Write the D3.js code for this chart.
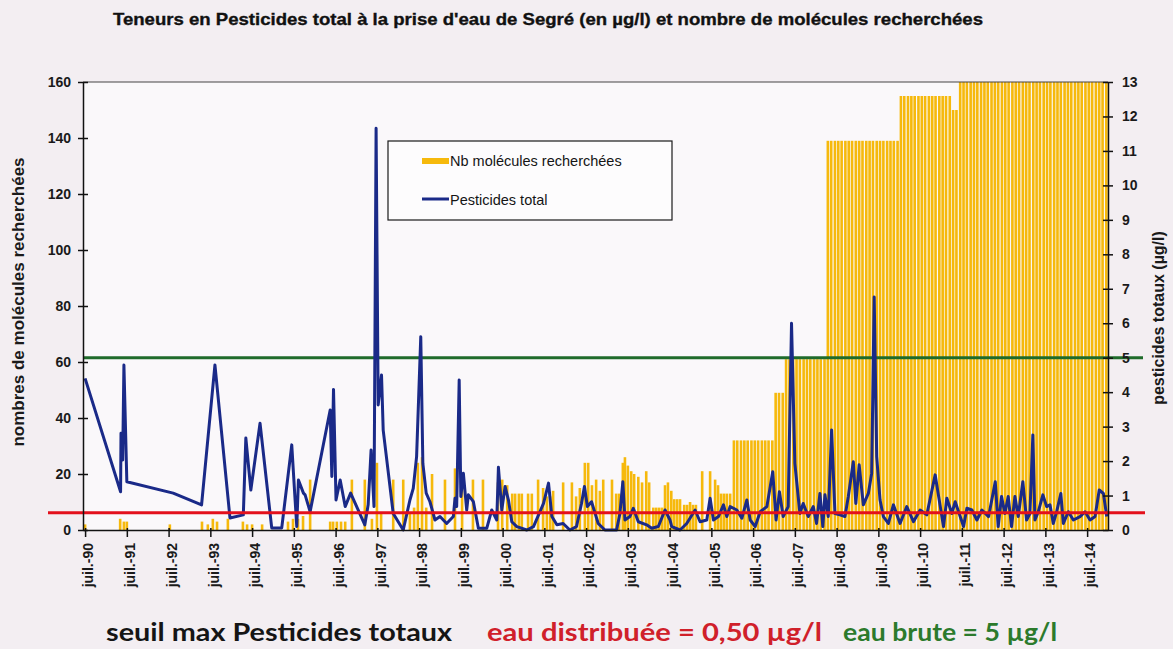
<!DOCTYPE html>
<html>
<head>
<meta charset="utf-8">
<script src="https://cdn.jsdelivr.net/npm/d3@7"></script>
<style>
  body { margin: 0; background: #f3eef2; }
  svg { display: block; }
</style>
</head>
<body>
<script>
// --- data ----------------------------------------------------------------

// Pesticides total (µg/l), sample dates as decimal years
const lineYears = [
  1990.50, 1991.35, 1991.36, 1991.40, 1991.43, 1991.50, 1992.61, 1993.29, 1993.61, 1993.97,
  1994.29, 1994.35, 1994.47, 1994.69, 1994.97, 1995.21, 1995.45, 1995.53, 1995.57, 1995.61,
  1995.73, 1995.77, 1995.89, 1996.37, 1996.41, 1996.45, 1996.51, 1996.61, 1996.73, 1996.86,
  1997.20, 1997.28, 1997.35, 1997.42, 1997.47, 1997.52, 1997.60, 1997.64, 1997.88, 1998.12,
  1998.28, 1998.36, 1998.44, 1998.54, 1998.59, 1998.67, 1998.76, 1998.88, 1999.00, 1999.16,
  1999.32, 1999.36, 1999.40, 1999.46, 1999.50, 1999.56, 1999.64, 1999.68, 1999.80, 1999.92,
  2000.12, 2000.24, 2000.36, 2000.40, 2000.48, 2000.56, 2000.64, 2000.72, 2000.84, 2001.08,
  2001.24, 2001.48, 2001.60, 2001.68, 2001.80, 2001.95, 2002.11, 2002.27, 2002.39, 2002.46,
  2002.53, 2002.63, 2002.79, 2002.95, 2003.23, 2003.31, 2003.38, 2003.43, 2003.55, 2003.63,
  2003.75, 2003.95, 2004.07, 2004.23, 2004.39, 2004.51, 2004.55, 2004.75, 2004.91, 2005.11,
  2005.23, 2005.39, 2005.47, 2005.55, 2005.67, 2005.79, 2005.87, 2005.95, 2006.11, 2006.23,
  2006.35, 2006.43, 2006.55, 2006.67, 2006.83, 2006.97, 2007.05, 2007.13, 2007.22, 2007.34,
  2007.42, 2007.50, 2007.62, 2007.70, 2007.82, 2007.94, 2008.02, 2008.10, 2008.17, 2008.22,
  2008.30, 2008.38, 2008.46, 2008.58, 2008.70, 2008.78, 2008.90, 2008.96, 2009.04, 2009.14,
  2009.26, 2009.34, 2009.40, 2009.46, 2009.54, 2009.62, 2009.74, 2009.86, 2010.02, 2010.18,
  2010.34, 2010.50, 2010.66, 2010.86, 2011.06, 2011.14, 2011.26, 2011.34, 2011.46, 2011.54,
  2011.62, 2011.74, 2011.86, 2011.98, 2012.14, 2012.30, 2012.37, 2012.45, 2012.53, 2012.61,
  2012.69, 2012.77, 2012.85, 2012.96, 2013.05, 2013.13, 2013.20, 2013.25, 2013.33, 2013.44,
  2013.53, 2013.61, 2013.69, 2013.77, 2013.87, 2013.93, 2014.05, 2014.17, 2014.33, 2014.45,
  2014.57, 2014.69, 2014.79, 2014.89, 2014.97
];
const pesticides = [
  4.40, 1.11, 2.81, 2.03, 4.79, 1.40, 1.07, 0.73, 4.79, 0.35,
  0.44, 2.67, 1.16, 3.10, 0.06, 0.06, 2.47, 0.87, 0.10, 1.45,
  1.07, 1.02, 0.53, 3.48, 1.55, 4.08, 0.87, 1.45, 0.68, 1.07,
  0.15, 0.73, 2.32, 0.68, 11.66, 3.63, 4.50, 2.90, 0.48, 0.00,
  0.87, 1.21, 2.13, 5.61, 1.93, 1.07, 0.82, 0.29, 0.39, 0.19,
  0.39, 0.92, 0.68, 4.35, 0.97, 1.65, 0.58, 1.02, 0.82, 0.05,
  0.05, 0.58, 0.29, 1.82, 0.58, 1.26, 0.87, 0.24, 0.10, 0.00,
  0.10, 0.77, 1.36, 0.39, 0.15, 0.19, 0.00, 0.10, 0.77, 1.26,
  0.68, 0.82, 0.19, 0.00, 0.00, 0.48, 1.40, 0.29, 0.39, 0.63,
  0.24, 0.15, 0.05, 0.10, 0.58, 0.29, 0.10, 0.00, 0.19, 0.58,
  0.24, 0.29, 0.92, 0.29, 0.39, 0.73, 0.39, 0.68, 0.58, 0.34,
  0.87, 0.29, 0.10, 0.53, 0.68, 1.69, 0.29, 1.11, 0.39, 0.68,
  6.00, 1.93, 0.48, 0.77, 0.39, 0.68, 0.19, 1.06, 0.10, 1.02,
  0.39, 2.90, 0.48, 0.44, 0.39, 0.97, 1.98, 0.77, 1.89, 0.73,
  1.06, 1.65, 6.76, 2.13, 0.87, 0.39, 0.19, 0.73, 0.19, 0.68,
  0.24, 0.58, 0.44, 1.60, 0.10, 0.92, 0.48, 0.82, 0.39, 0.10,
  0.63, 0.58, 0.29, 0.58, 0.39, 1.40, 0.10, 0.97, 0.48, 0.97,
  0.10, 0.97, 0.39, 1.40, 0.29, 0.48, 2.76, 0.29, 0.53, 1.02,
  0.68, 0.73, 0.19, 0.53, 1.06, 0.19, 0.53, 0.29, 0.39, 0.53,
  0.29, 0.39, 1.16, 1.06, 0.39
];

// Nb molécules recherchées, per sample
const barYears = [
  1990.50, 1991.34, 1991.43, 1991.50, 1992.53, 1993.30, 1993.44, 1993.56, 1993.66, 1993.92,
  1994.28, 1994.38, 1994.50, 1994.74, 1995.36, 1995.48, 1995.60, 1995.72, 1995.89,
  1996.37, 1996.44, 1996.53, 1996.63, 1996.73, 1996.89, 1997.20, 1997.37, 1997.49, 1997.59,
  1997.88, 1998.12, 1998.28, 1998.38, 1998.47, 1998.57, 1998.67, 1998.81,
  1999.12, 1999.36, 1999.53, 1999.79, 2000.03, 2000.39, 2000.49, 2000.61,
  2000.73, 2000.80, 2000.89, 2000.96, 2001.11, 2001.20, 2001.35, 2001.47, 2001.56, 2001.64, 2001.71,
  2001.95, 2002.16, 2002.26, 2002.35, 2002.47, 2002.55, 2002.64, 2002.74, 2002.83, 2002.91,
  2003.12, 2003.22, 2003.29, 2003.38, 2003.43, 2003.50, 2003.58, 2003.65,
  2003.75, 2003.84, 2003.94, 2004.01, 2004.11, 2004.18, 2004.25, 2004.32,
  2004.39, 2004.46, 2004.54, 2004.61, 2004.68, 2004.75, 2004.85, 2004.92, 2004.99, 2005.06, 2005.13,
  2005.28, 2005.47, 2005.59, 2005.66, 2005.73, 2005.80, 2005.87, 2005.95,
  2006.04, 2006.12, 2006.21, 2006.29, 2006.37, 2006.46, 2006.54, 2006.62, 2006.71, 2006.79, 2006.87, 2006.96,
  2007.04, 2007.12, 2007.21, 2007.29, 2007.37, 2007.46, 2007.54, 2007.62, 2007.71, 2007.79, 2007.87, 2007.96,
  2008.04, 2008.12, 2008.21, 2008.29, 2008.37, 2008.46, 2008.54, 2008.62, 2008.71, 2008.79, 2008.87, 2008.96,
  2009.04, 2009.12, 2009.21, 2009.29, 2009.37, 2009.46, 2009.54, 2009.62, 2009.71, 2009.79, 2009.87, 2009.96,
  2010.04, 2010.12, 2010.21, 2010.29, 2010.37, 2010.46, 2010.54, 2010.62, 2010.71, 2010.79, 2010.87, 2010.96,
  2011.04, 2011.12, 2011.21, 2011.29, 2011.37, 2011.46, 2011.54, 2011.62, 2011.71, 2011.79, 2011.87, 2011.96,
  2012.04, 2012.12, 2012.21, 2012.29, 2012.37, 2012.46, 2012.54, 2012.62, 2012.71, 2012.79, 2012.87, 2012.96,
  2013.04, 2013.12, 2013.21, 2013.29, 2013.37, 2013.46, 2013.54, 2013.62, 2013.71, 2013.79, 2013.87, 2013.96,
  2014.04, 2014.12, 2014.21, 2014.29, 2014.37, 2014.46, 2014.54, 2014.62, 2014.71, 2014.79, 2014.87, 2014.96
];
const molecules = [
  2, 4, 3, 3, 2, 3, 2, 4, 3, 4,
  3, 2, 2, 2, 3, 4, 4, 5, 18,
  3, 3, 3, 3, 3, 18, 18, 4, 24, 6,
  18, 18, 6, 8, 24, 26, 8, 20,
  18, 22, 20, 18, 18, 17, 18, 16,
  13, 13, 13, 13, 13, 13, 18, 15, 12, 12, 14,
  17, 17, 12, 15, 24, 24, 16, 18, 14, 18,
  18, 13, 13, 24, 26, 23, 21, 20,
  19, 17, 21, 17, 8, 8, 8, 8,
  16, 17, 14, 11, 11, 11, 9, 9, 10, 9, 9,
  21, 21, 18, 16, 13, 13, 13, 13,
  32, 32, 32, 32, 32, 32, 32, 32, 32, 32, 32, 32,
  49, 49, 49, 61, 61, 61, 61, 61, 61, 61, 61, 61,
  61, 61, 61, 139, 139, 139, 139, 139, 139, 139, 139, 139,
  139, 139, 139, 139, 139, 139, 139, 139, 139, 139, 139, 139,
  155, 155, 155, 155, 155, 155, 155, 155, 155, 155, 155, 155,
  155, 155, 155, 150, 150, 160, 160, 160, 160, 160, 160, 160,
  160, 160, 160, 160, 160, 160, 160, 160, 160, 160, 160, 160,
  160, 160, 160, 160, 160, 160, 160, 160, 160, 160, 160, 160,
  160, 160, 160, 160, 160, 160, 160, 160, 160, 160, 160, 160
];

const leftTicks = [0, 20, 40, 60, 80, 100, 120, 140, 160];
const rightTicks = [0, 1, 2, 3, 4, 5, 6, 7, 8, 9, 10, 11, 12, 13];
const tickYears = [1990, 1991, 1992, 1993, 1994, 1995, 1996, 1997, 1998, 1999, 2000, 2001,
                   2002, 2003, 2004, 2005, 2006, 2007, 2008, 2009, 2010, 2011, 2012, 2013, 2014];
const seuilDistribuee = 0.5;   // µg/l
const seuilBrute = 5;          // µg/l

// --- layout ----------------------------------------------------------------
const width = 1173, height = 649;
const plotL = 83, plotR = 1108, plotT = 82, plotB = 530;
const font = "'Liberation Sans', Arial, sans-serif";

const svg = d3.select("body").append("svg")
    .attr("width", width)
    .attr("height", height);

svg.append("rect").attr("width", width).attr("height", height).attr("fill", "#f3eef2");
svg.append("rect")
    .attr("x", plotL).attr("y", plotT)
    .attr("width", plotR - plotL).attr("height", plotB - plotT)
    .attr("fill", "#faf8fa");

const x = d3.scaleLinear().domain([1990.45, 2015.0]).range([plotL, plotR]);
const yLeft = d3.scaleLinear().domain([0, 160]).range([plotB, plotT]);
const yRight = d3.scaleLinear().domain([0, 13]).range([plotB, plotT]);

// title
svg.append("text")
    .attr("x", 113).attr("y", 25)
    .attr("textLength", 870).attr("lengthAdjust", "spacingAndGlyphs")
    .style("font-family", "'Liberation Sans Narrow', 'Liberation Sans', sans-serif")
    .style("font-weight", "bold").style("font-size", "17px").attr("fill", "#111")
    .attr("stroke", "#111").attr("stroke-width", 0.35)
    .text("Teneurs en Pesticides total à la prise d'eau de Segré (en µg/l) et nombre de molécules recherchées");

// bars
svg.append("g").selectAll("rect")
    .data(barYears.map((yr, i) => ({ yr, n: molecules[i] })))
    .enter()
    .append("rect")
    .attr("x", d => x(d.yr) - 1.3)
    .attr("width", 2.6)
    .attr("y", d => yLeft(d.n))
    .attr("height", d => plotB - yLeft(d.n))
    .attr("fill", "#f6b90c");

// top frame line
svg.append("line")
    .attr("x1", plotL).attr("x2", plotR).attr("y1", plotT).attr("y2", plotT)
    .attr("stroke", "#444").attr("stroke-width", 1);

// green threshold (eau brute)
svg.append("line")
    .attr("x1", plotL).attr("x2", 1143)
    .attr("y1", yRight(seuilBrute)).attr("y2", yRight(seuilBrute))
    .attr("stroke", "#1f6b2b").attr("stroke-width", 3);

// pesticides line
const line = d3.line()
    .x(d => x(d[0]))
    .y(d => yRight(d[1]));

svg.append("path")
    .datum(lineYears.map((yr, i) => [yr, pesticides[i]]))
    .attr("d", line)
    .attr("fill", "none")
    .attr("stroke", "#1a2a88")
    .attr("stroke-width", 3)
    .attr("stroke-linejoin", "round");

// red threshold (eau distribuée)
svg.append("line")
    .attr("x1", 48).attr("x2", 1145)
    .attr("y1", yRight(seuilDistribuee)).attr("y2", yRight(seuilDistribuee))
    .attr("stroke", "#e3101c").attr("stroke-width", 3);

// axes
function styleAxis(g) {
  g.select(".domain").attr("stroke", "#111").attr("stroke-width", 1.5);
  g.selectAll(".tick line").attr("stroke", "#111").attr("stroke-width", 1.5);
  g.selectAll(".tick text")
    .style("font-family", font).style("font-weight", "bold")
    .style("font-size", "14px").attr("fill", "#1a1a1a");
}

const gLeft = svg.append("g")
    .attr("transform", `translate(${plotL},0)`)
    .call(d3.axisLeft(yLeft).tickValues(leftTicks).tickSizeOuter(0))
    .call(styleAxis);
gLeft.selectAll(".tick line").attr("x1", -5).attr("x2", 5);
gLeft.selectAll(".tick text").attr("x", -12);

const gRight = svg.append("g")
    .attr("transform", `translate(${plotR},0)`)
    .call(d3.axisRight(yRight).tickValues(rightTicks).tickSizeOuter(0))
    .call(styleAxis);
gRight.selectAll(".tick line").attr("x1", -5).attr("x2", 5);
gRight.selectAll(".tick text").attr("x", 14);

const gBottom = svg.append("g")
    .attr("transform", `translate(0,${plotB})`)
    .call(d3.axisBottom(x)
      .tickValues(tickYears.map(yr => yr + 0.5))
      .tickFormat(v => "juil.-" + String(Math.floor(v) % 100).padStart(2, "0"))
      .tickSizeOuter(0))
    .call(styleAxis);
gBottom.selectAll(".tick line").attr("y1", -2).attr("y2", 7);
gBottom.selectAll(".tick text")
    .attr("transform", "rotate(-90)")
    .attr("text-anchor", "end")
    .attr("x", -13).attr("y", 0).attr("dy", "0.55em");

// axis titles
svg.append("text")
    .attr("transform", "translate(24,302) rotate(-90)")
    .attr("text-anchor", "middle")
    .style("font-family", font).style("font-weight", "bold").style("font-size", "17px")
    .attr("fill", "#1a1a1a")
    .text("nombres de molécules recherchées");

svg.append("text")
    .attr("transform", "translate(1164,318) rotate(-90)")
    .attr("text-anchor", "middle")
    .style("font-family", font).style("font-weight", "bold").style("font-size", "16px")
    .attr("fill", "#1a1a1a")
    .text("pesticides totaux (µg/l)");

// legend
const legend = svg.append("g");
legend.append("rect")
    .attr("x", 388).attr("y", 141).attr("width", 284).attr("height", 79)
    .attr("fill", "#fdfcfd").attr("stroke", "#1a1a1a").attr("stroke-width", 1.2);
legend.append("rect")
    .attr("x", 422).attr("y", 158).attr("width", 27).attr("height", 6)
    .attr("fill", "#f6b90c");
legend.append("text")
    .attr("x", 450).attr("y", 166)
    .style("font-family", font).style("font-size", "14.5px").attr("fill", "#151515")
    .text("Nb molécules recherchées");
legend.append("line")
    .attr("x1", 422).attr("x2", 449).attr("y1", 199).attr("y2", 199)
    .attr("stroke", "#1a2a88").attr("stroke-width", 3);
legend.append("text")
    .attr("x", 450).attr("y", 205)
    .style("font-family", font).style("font-size", "14.5px").attr("fill", "#151515")
    .text("Pesticides total");

// bottom caption
const caption = [
  { text: "seuil max Pesticides totaux", x: 106, len: 346, color: "#151515" },
  { text: "eau distribuée = 0,50 µg/l", x: 487, len: 335, color: "#d0202a" },
  { text: "eau brute = 5 µg/l", x: 843, len: 214, color: "#2c7a2c" }
];
svg.append("g").selectAll("text")
    .data(caption)
    .enter()
    .append("text")
    .attr("x", d => d.x).attr("y", 641)
    .attr("textLength", d => d.len).attr("lengthAdjust", "spacingAndGlyphs")
    .style("font-family", "Lato, 'Open Sans', sans-serif")
    .style("font-weight", "bold").style("font-size", "25px")
    .attr("fill", d => d.color)
    .text(d => d.text);
</script>
</body>
</html>
